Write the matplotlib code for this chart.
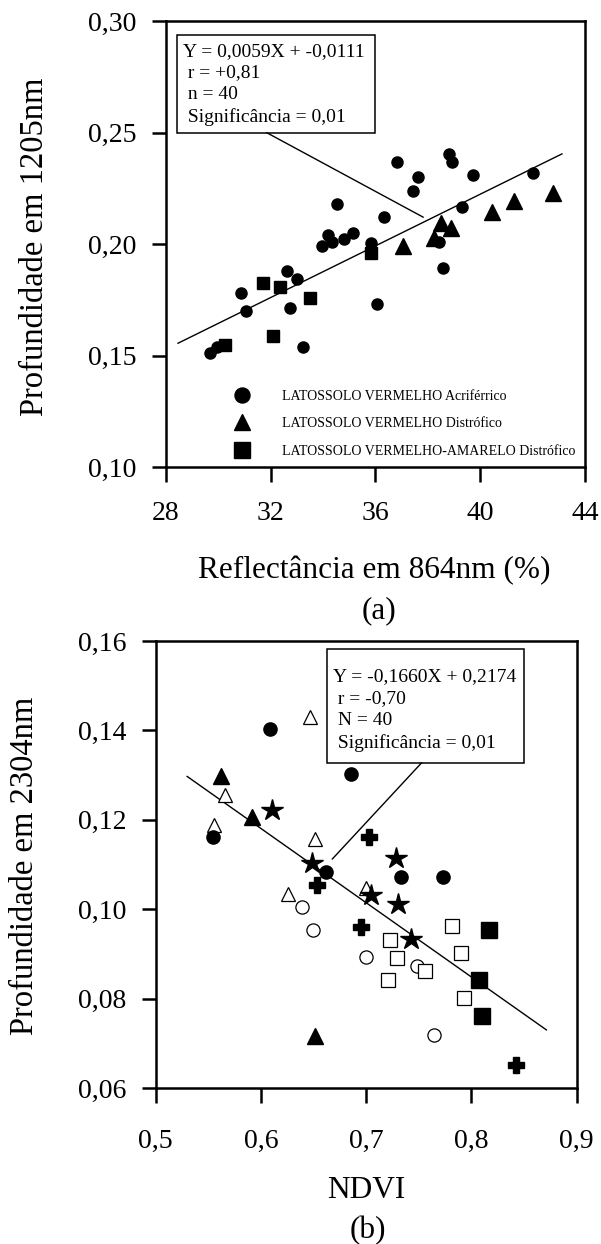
import matplotlib
matplotlib.use("Agg")
import matplotlib.pyplot as plt
from matplotlib.lines import Line2D
from matplotlib.patches import Rectangle
from matplotlib.ticker import FixedLocator, FixedFormatter

plt.rcParams['font.family'] = ['Liberation Serif', 'DejaVu Serif']

# ---------------- data: panel (a) ----------------
a_circ_x = [36.81, 38.82, 38.92, 37.64, 37.45, 39.72, 42.02, 34.54, 36.34, 39.31,
            34.19, 33.96, 34.34, 34.80, 35.15, 35.82, 38.41, 38.58, 32.62, 33.00,
            30.87, 31.06, 32.75, 36.05, 33.23, 29.69, 29.97]
a_circ_y = [0.2369, 0.2402, 0.2369, 0.2299, 0.2239, 0.2309, 0.2317, 0.2179, 0.2120, 0.2167,
            0.2040, 0.1991, 0.2010, 0.2021, 0.2051, 0.2003, 0.2010, 0.1891, 0.1880, 0.1843,
            0.1782, 0.1701, 0.1712, 0.1731, 0.1540, 0.1510, 0.1540]
a_tri_x = [37.04, 38.22, 38.50, 38.90, 40.46, 41.29, 42.76]
a_tri_y = [0.1991, 0.2025, 0.2093, 0.2070, 0.2145, 0.2194, 0.2227]
a_sq_x = [31.72, 32.37, 33.51, 32.08, 30.26, 35.85]
a_sq_y = [0.1826, 0.1806, 0.1756, 0.1587, 0.1547, 0.1958]
a_fit_x = [28.47, 43.12]
a_fit_y = [0.1555, 0.2404]
a_labels = ['LATOSSOLO VERMELHO Acriférrico',
            'LATOSSOLO VERMELHO Distrófico',
            'LATOSSOLO VERMELHO-AMARELO Distrófico']
a_stats = ['Y = 0,0059X + -0,0111', ' r = +0,81', ' n = 40', ' Significância = 0,01']
a_xticks = [28, 32, 36, 40, 44]
a_xticklabels = ['28', '32', '36', '40', '44']
a_yticks = [0.10, 0.15, 0.20, 0.25, 0.30]
a_yticklabels = ['0,10', '0,15', '0,20', '0,25', '0,30']

# ---------------- data: panel (b) ----------------
b_fcirc_x = [0.6088, 0.6851, 0.5541, 0.6619, 0.7335, 0.7726]
b_fcirc_y = [0.1404, 0.1303, 0.1162, 0.1084, 0.1073, 0.1073]
b_ftri_x = [0.5617, 0.5919, 0.6517]
b_ftri_y = [0.1297, 0.1207, 0.0717]
b_otri_x = [0.6469, 0.5658, 0.5553, 0.6517, 0.6253, 0.6994]
b_otri_y = [0.1429, 0.1256, 0.1189, 0.1157, 0.1035, 0.1047]
b_star_x = [0.6104, 0.6486, 0.7281, 0.7042, 0.7306, 0.7430]
b_star_y = [0.1222, 0.1103, 0.1114, 0.1031, 0.1011, 0.0934]
b_plus_x = [0.7026, 0.6533, 0.6947, 0.8426]
b_plus_y = [0.1161, 0.1054, 0.0960, 0.0652]
b_ocirc_x = [0.6390, 0.6492, 0.6994, 0.7478, 0.7646]
b_ocirc_y = [0.1004, 0.0953, 0.0893, 0.0873, 0.0718]
b_osq_x = [0.7226, 0.7297, 0.7207, 0.7557, 0.7815, 0.7901, 0.7926]
b_osq_y = [0.0932, 0.0891, 0.0842, 0.0861, 0.0962, 0.0902, 0.0802]
b_fsq_x = [0.8165, 0.8076, 0.8101]
b_fsq_y = [0.0953, 0.0842, 0.0762]
b_fit_x = [0.5299, 0.8712]
b_fit_y = [0.1297, 0.0730]
b_stats = ['Y = -0,1660X + 0,2174', ' r = -0,70', ' N = 40', ' Significância = 0,01']
b_xticks = [0.5, 0.6, 0.7, 0.8, 0.9]
b_xticklabels = ['0,5', '0,6', '0,7', '0,8', '0,9']
b_yticks = [0.06, 0.08, 0.10, 0.12, 0.14, 0.16]
b_yticklabels = ['0,06', '0,08', '0,10', '0,12', '0,14', '0,16']

# ---------------- layout ----------------
W, H = 601, 1244
fig = plt.figure(figsize=(W / 100, H / 100), dpi=100)


def ax_rect(l, r, t, b):
    return [l / W, 1 - b / H, (r - l) / W, (b - t) / H]


ax1 = fig.add_axes(ax_rect(165.7, 585, 21, 467))
ax2 = fig.add_axes(ax_rect(155.7, 576.7, 641, 1088))


def style_axes(ax, xt, xtl, yt, ytl, xlim, ylim, xpad):
    ax.set_xlim(*xlim)
    ax.set_ylim(*ylim)
    ax.xaxis.set_major_locator(FixedLocator(xt))
    ax.xaxis.set_major_formatter(FixedFormatter(xtl))
    ax.yaxis.set_major_locator(FixedLocator(yt))
    ax.yaxis.set_major_formatter(FixedFormatter(ytl))
    for s in ax.spines.values():
        s.set_linewidth(1.8)
    ax.tick_params(axis='x', direction='out', length=11, width=1.8, labelsize=20, pad=xpad)
    ax.tick_params(axis='y', direction='out', length=10, width=1.8, labelsize=20, pad=11)


style_axes(ax1, a_xticks, a_xticklabels, a_yticks, a_yticklabels, (28, 44), (0.10, 0.30), 13.5)
style_axes(ax2, b_xticks, b_xticklabels, b_yticks, b_yticklabels, (0.5, 0.9), (0.06, 0.16), 18.5)

# ---------------- panel (a) ----------------
ax1.plot(a_fit_x, a_fit_y, color='k', lw=1.0, zorder=2)
ax1.plot(a_circ_x, a_circ_y, 'o', color='k', ms=8, ls='none', zorder=3)
ax1.plot(a_tri_x, a_tri_y, '^', color='k', ms=11, ls='none', zorder=3)
ax1.plot(a_sq_x, a_sq_y, 's', color='k', ms=9, ls='none', zorder=3)

ax1.add_patch(Rectangle((0.0277, 0.7496), 0.4992 - 0.0277, 0.9686 - 0.7496,
                        transform=ax1.transAxes, fill=False, lw=1.1, ec='k', zorder=4))
a_base = [0.9215, 0.8751, 0.8251, 0.7742]
for line, yb in zip(a_stats, a_base):
    ax1.text(0.042, yb, line, transform=ax1.transAxes, fontsize=14, va='baseline', ha='left')
ax1.annotate('', xy=(37.83, 0.2120), xytext=(0.2409, 0.7496), textcoords='axes fraction',
             arrowprops=dict(arrowstyle='-', lw=1.0, color='k', shrinkA=0, shrinkB=0))

handles = [Line2D([], [], marker='o', color='k', ms=10.8, ls='none'),
           Line2D([], [], marker='^', color='k', ms=11.5, ls='none'),
           Line2D([], [], marker='s', color='k', ms=11.5, ls='none')]
ax1.legend(handles, a_labels, loc='upper left', bbox_to_anchor=(0.166, 0.1736),
           frameon=False, fontsize=10, handlelength=1.0, handletextpad=2.33,
           borderpad=0, borderaxespad=0, labelspacing=1.05)

ax1.set_xlabel('Reflectância em 864nm (%)', fontsize=22.5, va='baseline')
ax1.xaxis.set_label_coords(0.497, -0.2496)
ax1.set_ylabel('Profundidade em 1205nm', fontsize=23.5, va='baseline')
ax1.yaxis.set_label_coords(-0.292, 0.493)
fig.text(379 / W, 1 - 618 / H, '(a)', fontsize=22.5, ha='center', va='baseline')

# ---------------- panel (b) ----------------
ax2.plot(b_fit_x, b_fit_y, color='k', lw=1.0, zorder=2)
ax2.plot(b_otri_x, b_otri_y, '^', mfc='white', mec='k', mew=0.9, ms=9.5, ls='none', zorder=3)
ax2.plot(b_ocirc_x, b_ocirc_y, 'o', mfc='white', mec='k', mew=0.9, ms=9.5, ls='none', zorder=3)
ax2.plot(b_osq_x, b_osq_y, 's', mfc='white', mec='k', mew=0.9, ms=10, ls='none', zorder=3)
ax2.plot(b_fcirc_x, b_fcirc_y, 'o', color='k', ms=9.5, ls='none', zorder=4)
ax2.plot(b_ftri_x, b_ftri_y, '^', color='k', ms=11, ls='none', zorder=4)
ax2.plot(b_star_x, b_star_y, '*', color='k', ms=16, ls='none', zorder=4)
ax2.plot(b_plus_x, b_plus_y, 'P', color='k', ms=11, ls='none', zorder=4)
ax2.plot(b_fsq_x, b_fsq_y, 's', color='k', ms=11.5, ls='none', zorder=4)

ax2.add_patch(Rectangle((0.4062, 0.7277), 0.8748 - 0.4062, 0.9821 - 0.7277,
                        transform=ax2.transAxes, fill=False, lw=1.1, ec='k', zorder=5))
b_base = [0.9112, 0.8620, 0.8121, 0.7613]
for line, yb in zip(b_stats, b_base):
    ax2.text(0.4219, yb, line, transform=ax2.transAxes, fontsize=14, va='baseline', ha='left')
ax2.annotate('', xy=(0.6677, 0.1112), xytext=(0.6318, 0.7277), textcoords='axes fraction',
             arrowprops=dict(arrowstyle='-', lw=1.0, color='k', shrinkA=0, shrinkB=0))

ax2.set_xlabel('NDVI', fontsize=22.5, va='baseline')
ax2.xaxis.set_label_coords(0.5, -0.2468)
ax2.set_ylabel('Profundidade em 2304nm', fontsize=23.5, va='baseline')
ax2.yaxis.set_label_coords(-0.2907, 0.4966)
fig.text(367.5 / W, 1 - 1238 / H, '(b)', fontsize=22.5, ha='center', va='baseline')

fig.savefig('out.png', dpi=100)
